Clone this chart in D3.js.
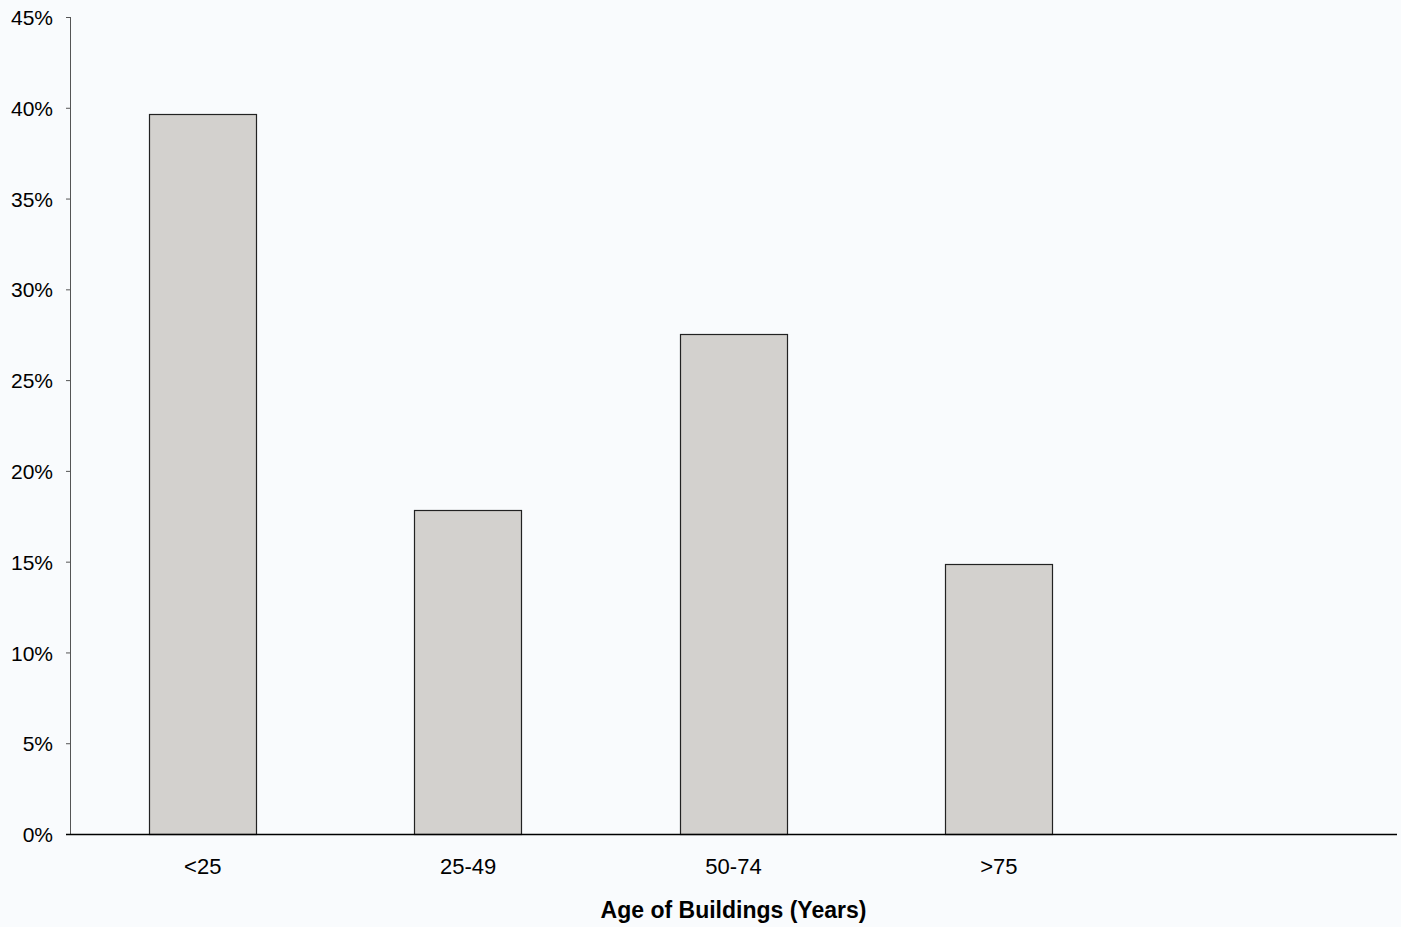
<!DOCTYPE html>
<html>
<head>
<meta charset="utf-8">
<script src="https://cdn.jsdelivr.net/npm/d3@7"></script>
<style>
  html, body { margin: 0; padding: 0; background: #f9fbfd; }
  svg { display: block; }
  text { font-family: "Liberation Sans", Arial, sans-serif; fill: #000; }
</style>
</head>
<body>
<svg id="chart" width="1401" height="927"></svg>
<script>
// Share of buildings by age band
const categories = ["<25", "25-49", "50-74", ">75", ""];
const shares = [39.65, 17.85, 27.55, 14.88];
const yTicks = [0, 5, 10, 15, 20, 25, 30, 35, 40, 45];
const xTitle = "Age of Buildings (Years)";

const svg = d3.select("#chart");
const margin = { top: 17, right: 4, bottom: 93, left: 70 };
const W = 1401, H = 927;
const innerW = W - margin.left - margin.right;
const innerH = H - margin.top - margin.bottom;

const g = svg.append("g").attr("transform", `translate(${margin.left},${margin.top})`);

const x = d3.scaleBand()
  .domain(categories)
  .range([0, innerW])
  .paddingInner(0.595)
  .paddingOuter(0.2975);

const y = d3.scaleLinear().domain([0, 45]).range([innerH, 0]);

// Bars
g.selectAll("rect.bar")
  .data(shares)
  .join("rect")
  .attr("class", "bar")
  .attr("x", (d, i) => Math.round(x(categories[i])) + 0.5)
  .attr("y", d => Math.round(y(d)) + 0.5)
  .attr("width", Math.round(x.bandwidth()))
  .attr("height", d => Math.round(y(0)) - Math.round(y(d)))
  .attr("fill", "#d3d1ce")
  .attr("stroke", "#222")
  .attr("stroke-width", 1.2);

// Y axis
const yAxis = g.append("g")
  .call(d3.axisLeft(y).tickValues(yTicks).tickFormat(d => d + "%").tickSize(4).tickPadding(13));
yAxis.select(".domain").attr("stroke", "#555").attr("d", `M0.5,0V${innerH}`);
yAxis.selectAll(".tick line").attr("stroke", "#555");
yAxis.selectAll(".tick text")
  .attr("font-size", "21px")
  .attr("font-family", "Liberation Sans, Arial, sans-serif")
  .attr("dy", "0.36em");

// X axis: baseline with category labels, no tick marks
const xAxis = g.append("g")
  .attr("transform", `translate(0,${innerH})`)
  .call(d3.axisBottom(x).tickSize(0).tickPadding(24));
xAxis.select(".domain").attr("stroke", "#000").attr("stroke-width", 1.5).attr("d", `M-4,0.5H${innerW}`);
xAxis.selectAll(".tick text")
  .attr("font-size", "22px")
  .attr("font-family", "Liberation Sans, Arial, sans-serif");

// Axis title
svg.append("text")
  .attr("x", margin.left + x("50-74") + x.bandwidth() / 2)
  .attr("y", 918)
  .attr("text-anchor", "middle")
  .attr("font-size", "23px")
  .attr("font-weight", "bold")
  .text(xTitle);
</script>
</body>
</html>
